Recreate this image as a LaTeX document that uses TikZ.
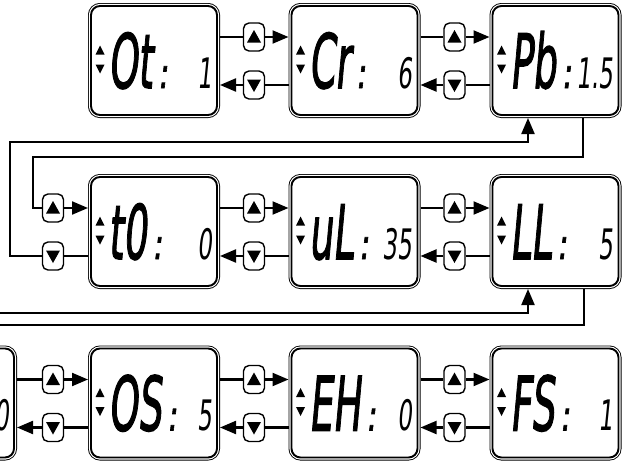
\documentclass[tikz,border=0pt]{standalone}
\usepackage{fontspec}
\newfontfamily\lcdfont{DejaVu Sans}[FakeSlant=0.18]
\newfontfamily\lcdboldfont{DejaVu Sans}[FakeSlant=0.18,FakeBold=2]
\usetikzlibrary{arrows.meta,calc}
\newcommand\lcdbig[1]{\scalebox{0.5}[1]{\lcdboldfont\fontsize{75}{75}\selectfont #1}}
\newcommand\lcdsmall[1]{\scalebox{0.55}[1]{\lcdfont\fontsize{42}{42}\selectfont #1}}
\newcommand\lcdcolon{\scalebox{0.7}[1]{\lcdboldfont\fontsize{42}{42}\selectfont :}}
\tikzset{
  lcd/.style={minimum width=126pt, minimum height=109pt, inner sep=0pt, outer sep=3pt,
    rounded corners=9pt, preaction={draw, line width=6pt},
    preaction={draw=white, line width=4.2pt}, fill=white, draw, line width=1.9pt},
  btn/.style={draw, line width=1.4pt, rounded corners=5.5pt, minimum width=21pt,
    minimum height=28pt, inner sep=0pt, fill=white},
  conn/.style={line width=2.1pt},
  arr/.style={conn, -{Triangle[length=16pt,width=13pt]}},
  bigtxt/.style={inner sep=0pt, anchor=base west},
  coltxt/.style={inner sep=0pt, anchor=base west},
  valtxt/.style={inner sep=0pt, anchor=base east}
}
\newcommand\uptri[1]{\fill[sharp corners] ($(#1)+(-7,5.5)$) -- ++(14,0) -- ++(-7,-12.5) -- cycle;}
\newcommand\dntri[1]{\fill[sharp corners] ($(#1)+(-7,-5.5)$) -- ++(14,0) -- ++(-7,12.5) -- cycle;}
\begin{document}
\begin{tikzpicture}[x=1pt,y=-1pt]
\useasboundingbox (0,0) rectangle (628,461);
\clip (0,0) rectangle (628,461);
% display boxes
\foreach \n/\x/\y/\lab/\val in {1/154/60.5/Ot/1, 2/354.5/60.5/Cr/6, 3/555.5/60.5/Pb/1.5,
    4/154/231.5/t0/0, 5/354.5/231.5/uL/35, 6/555.5/231.5/LL/5,
    7/154/403/OS/5, 8/354.5/403/EH/0, 9/555.5/403/FS/1}{
  \node[lcd] (b\n) at (\x,\y) {};
  \node[bigtxt] (l\n) at ($(b\n.west)+(20,27.5)$) {\lcdbig{\lab}};
  \node[coltxt] (k\n) at ($(l\n.base east)+(5,0)$) {\lcdcolon};
  \node[valtxt] (v\n) at ($(b\n.east)+(-8,27.5)$) {\lcdsmall{\val}};
  \fill ($(b\n.west)+(12,-10.5)$) +(-4.5,4.5) -- +(4.5,4.5) -- +(0,-4.5) -- cycle;
  \fill ($(b\n.west)+(12,8.5)$) +(-4.5,-4.5) -- +(4.5,-4.5) -- +(0,4.5) -- cycle;
}
% partially visible box at the left of the bottom row
\node[lcd] (b0) at (-49,403) {};
\node[valtxt] (v0) at ($(b0.east)+(-8,27.5)$) {\lcdsmall{0}};
% buttons between neighbouring displays
\foreach \a/\b/\mx/\y in {1/2/254/60.5, 2/3/454.5/60.5, 4/5/254/231.5, 5/6/454.5/231.5,
    0/7/53/403, 7/8/254/403, 8/9/454.5/403}{
  \node[btn] (u\b) at (\mx,\y-23.5) {};
  \node[btn] (d\b) at (\mx,\y+24.5) {};
  \uptri{u\b}
  \dntri{d\b}
  \draw[conn] (b\a.east |- u\b) -- (u\b);
  \draw[arr] (u\b) -- (b\b.west |- u\b);
  \draw[conn] (b\b.west |- d\b) -- (d\b);
  \draw[arr] (d\b) -- (b\a.east |- d\b);
}
% loop from Pb to t0
\node[btn] (u4) at (53,208) {};
\node[btn] (d4) at (53,256) {};
\uptri{u4}
\dntri{d4}
\coordinate (r1) at (583,157);
\coordinate (l1) at (33,157);
\coordinate (l2) at (10,142);
\coordinate (r2) at (528,142);
\draw[conn] (b3.south -| r1) -- (r1) -- (l1) |- (u4);
\draw[arr] (u4) -- (b4.west |- u4);
\draw[conn] (b4.west |- d4) -- (d4);
\draw[arr] (d4) -| (l2) -- (r2) -- (b3.south -| r2);
% loop from LL towards the bottom row
\coordinate (r3) at (584,325);
\coordinate (e3) at (-5,325);
\coordinate (r4) at (528,313);
\coordinate (e4) at (-5,313);
\draw[conn] (b6.south -| r3) -- (r3) -- (e3);
\draw[arr] (e4) -- (r4) -- (b6.south -| r4);
\end{tikzpicture}
\end{document}
